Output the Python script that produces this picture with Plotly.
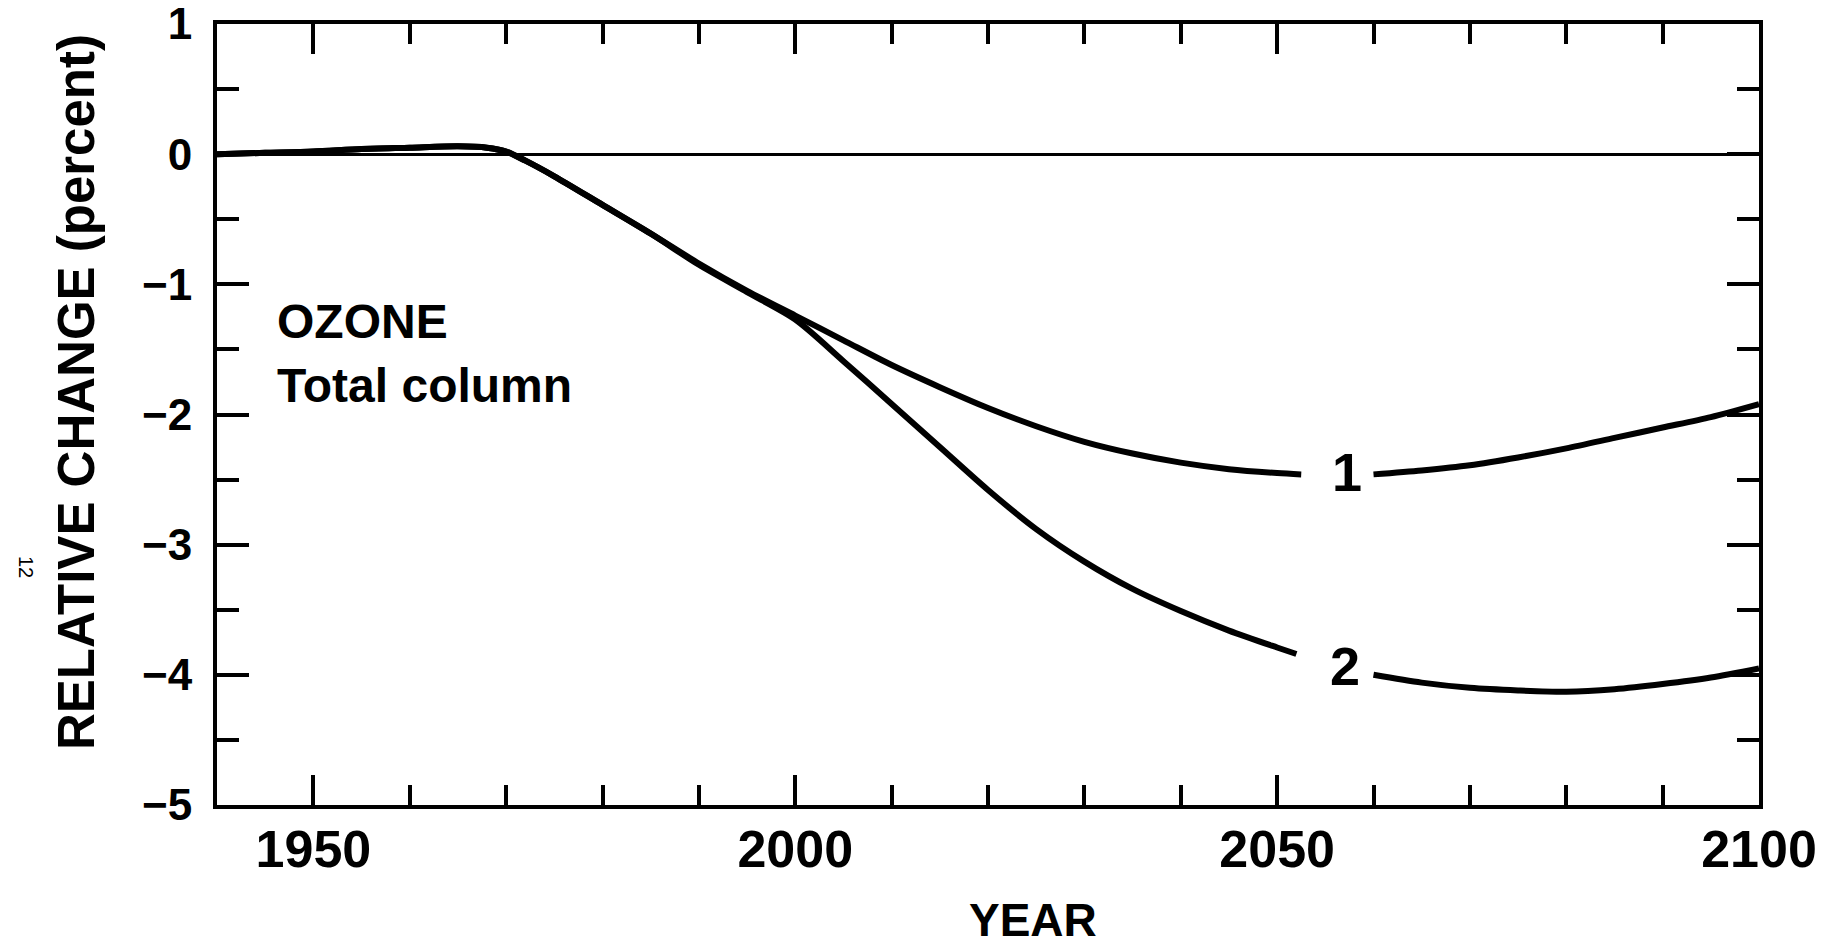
import plotly.graph_objects as go

# ---- data ----
years_1 = [1940, 1945, 1950, 1955, 1960, 1965, 1968, 1970, 1972, 1975, 1980, 1985, 1990, 1995,
           2000, 2005, 2010, 2015, 2020, 2025, 2030, 2035, 2040, 2045, 2050, 2052.5,
           None,
           2060, 2065, 2070, 2075, 2080, 2085, 2090, 2095, 2100]
ozone_1 = [0.00, 0.01, 0.02, 0.04, 0.05, 0.06, 0.05, 0.02, -0.05, -0.17, -0.39, -0.61, -0.84, -1.05,
           -1.24, -1.43, -1.62, -1.79, -1.95, -2.09, -2.21, -2.30, -2.37, -2.42, -2.45, -2.46,
           None,
           -2.46, -2.43, -2.39, -2.33, -2.26, -2.18, -2.10, -2.02, -1.92]

years_2 = [1940, 1945, 1950, 1955, 1960, 1965, 1968, 1970, 1972, 1975, 1980, 1985, 1990, 1995,
           2000, 2005, 2010, 2015, 2020, 2025, 2030, 2035, 2040, 2045, 2050, 2052,
           None,
           2060, 2065, 2070, 2075, 2080, 2085, 2090, 2095, 2100]
ozone_2 = [0.00, 0.01, 0.02, 0.04, 0.05, 0.06, 0.05, 0.02, -0.05, -0.17, -0.39, -0.61, -0.85, -1.06,
           -1.27, -1.59, -1.92, -2.25, -2.58, -2.88, -3.13, -3.34, -3.51, -3.66, -3.79, -3.84,
           None,
           -4.00, -4.06, -4.10, -4.12, -4.13, -4.11, -4.07, -4.02, -3.95]

x_tick_vals = [1950, 2000, 2050, 2100]
x_tick_text = ["1950", "2000", "2050", "2100"]
y_tick_vals = [1, 0, -1, -2, -3, -4, -5]
y_tick_text = ["1", "0", "\u22121", "\u22122", "\u22123", "\u22124", "\u22125"]

curve_labels = ["1", "2"]
curve_label_x = [2057.3, 2057.0]
curve_label_y = [-2.44, -3.93]

FONT = "Liberation Sans, Arial, sans-serif"

fig = go.Figure()
fig.add_trace(go.Scatter(x=years_1, y=ozone_1, mode="lines", connectgaps=False,
                         line=dict(color="black", width=6, shape="spline", smoothing=0.8),
                         showlegend=False, hoverinfo="skip"))
fig.add_trace(go.Scatter(x=years_2, y=ozone_2, mode="lines", connectgaps=False,
                         line=dict(color="black", width=6, shape="spline", smoothing=0.8),
                         showlegend=False, hoverinfo="skip"))

fig.update_layout(
    width=1821, height=947,
    margin=dict(l=217, r=62, t=24, b=142, autoexpand=False),
    paper_bgcolor="white", plot_bgcolor="white",
    font=dict(family=FONT, color="black"),
    showlegend=False,
)

fig.update_xaxes(
    range=[1940, 2100], showgrid=False, zeroline=False, automargin=False,
    showline=True, linecolor="black", linewidth=4, mirror="ticks",
    ticks="inside", ticklen=30, tickwidth=3.5, tickcolor="black",
    tickvals=x_tick_vals, ticktext=x_tick_text,
    tickfont=dict(family=FONT, size=52, color="black", weight=700),
    ticklabelstandoff=-4, ticklabeloverflow="allow",
    minor=dict(ticks="inside", dtick=10, tick0=1940, ticklen=20, tickwidth=3.5, tickcolor="black", showgrid=False),
)
fig.update_yaxes(
    range=[-5, 1], showgrid=False, automargin=False,
    zeroline=True, zerolinecolor="black", zerolinewidth=2.5,
    showline=True, linecolor="black", linewidth=4, mirror="ticks",
    ticks="inside", ticklen=32, tickwidth=3.5, tickcolor="black",
    tickvals=y_tick_vals, ticktext=y_tick_text,
    tickfont=dict(family=FONT, size=44, color="black", weight=700),
    ticklabelstandoff=12, ticklabeloverflow="allow",
    minor=dict(ticks="inside", dtick=0.5, tick0=0, ticklen=22, tickwidth=3.5, tickcolor="black", showgrid=False),
)

PW, PH, PB = 1542, 781, 805  # plot width, height, bottom pixel

# axis titles
fig.add_annotation(text="RELATIVE CHANGE (percent)", textangle=-90,
                   xref="paper", yref="paper", x=(76 - 217) / PW, y=(PB - 392) / PH,
                   xanchor="center", yanchor="middle", showarrow=False,
                   font=dict(family=FONT, size=51, color="black", weight=700))
fig.add_annotation(text="YEAR", xref="paper", yref="paper", x=(1033 - 217) / PW, y=(PB - 920) / PH,
                   xanchor="center", yanchor="middle", showarrow=False,
                   font=dict(family=FONT, size=46, color="black", weight=700))

# in-plot labels
fig.add_annotation(text="OZONE", x=1946.0, y=-1.286, xanchor="left", yanchor="middle",
                   showarrow=False, font=dict(family=FONT, size=48, color="black", weight=700))
fig.add_annotation(text="Total column", x=1946.0, y=-1.775, xanchor="left", yanchor="middle",
                   showarrow=False, font=dict(family=FONT, size=48, color="black", weight=700))

for t, cx, cy in zip(curve_labels, curve_label_x, curve_label_y):
    fig.add_annotation(text=t, x=cx, y=cy, xanchor="center", yanchor="middle",
                       showarrow=False, font=dict(family=FONT, size=54, color="black", weight=700))

# page number at far left
fig.add_annotation(text="12", textangle=90, xref="paper", yref="paper",
                   x=(26 - 217) / PW, y=(PB - 567) / PH,
                   xanchor="center", yanchor="middle", showarrow=False,
                   font=dict(family=FONT, size=20, color="black"))

fig.write_html("out.html")
